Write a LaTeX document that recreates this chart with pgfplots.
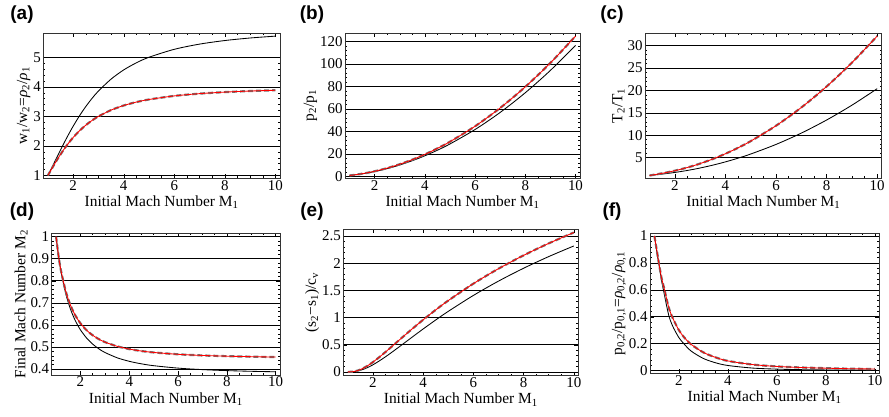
\documentclass[border=0pt]{standalone}
\usepackage{pgfplots}
\pgfplotsset{compat=1.18}
\usepackage{pgfplotstable}
\usepackage{fontspec}
\setmainfont{Liberation Serif}
\newfontfamily\panelfont{Liberation Sans}

% gamma = 1.4 (b) and gamma = 5/3 (r)
\pgfplotstableread{
M     b       r
1     1       1
1.2   1.3416  1.2973
1.4   1.6897  1.5806
1.6   2.0317  1.8417
1.8   2.3592  2.0769
2     2.6667  2.2857
2.25  3.0186  2.5116
2.5   3.3333  2.7027
2.75  3.6119  2.8639
3     3.8571  3.0
3.5   4.2609  3.2131
4     4.5714  3.3684
4.5   4.8119  3.4839
5     5.0     3.5714
6     5.2683  3.6923
7     5.4444  3.7692
8     5.5652  3.8209
9     5.6512  3.8571
10    5.7143  3.8835
}\rhotab
\pgfplotstableread{
M     b        r
1     1        1
1.2   1.5133   1.55
1.4   2.12     2.2
1.6   2.82     2.95
1.8   3.6133   3.8
2     4.5      4.75
2.25  5.7396   6.0781
2.5   7.125    7.5625
2.75  8.6563   9.2031
3     10.3333  11
3.5   14.125   15.0625
4     18.5     19.75
4.5   23.4583  25.0625
5     29       31
6     41.8333  44.75
7     57       61
8     74.5     79.75
9     94.3333  101
10    116.5    124.75
}\ptab
\pgfplotstableread{
M     b        r
1     1        1
1.2   1.1280   1.1948
1.4   1.2547   1.3918
1.6   1.3880   1.6018
1.8   1.5316   1.8296
2     1.6875   2.0781
2.25  1.9014   2.42
2.5   2.1375   2.7981
2.75  2.3966   3.2135
3     2.6790   3.6667
3.5   3.3150   4.6878
4     4.0469   5.8633
4.5   4.8750   7.1939
5     5.8      8.68
6     7.9406   12.1198
7     10.4694  16.1837
8     13.3867  20.8721
9     16.6926  26.1852
10    20.3875  32.1231
}\Ttab
\pgfplotstableread{
M     b       r
1     1       1
1.1   0.9118  0.9131
1.2   0.8422  0.8462
1.4   0.7397  0.7508
1.6   0.6684  0.6864
1.8   0.6165  0.6407
2     0.5774  0.6070
2.25  0.5406  0.5759
2.5   0.5130  0.5530
2.75  0.4918  0.5357
3     0.4752  0.5222
3.5   0.4512  0.5031
4     0.4350  0.4904
4.5   0.4236  0.4816
5     0.4152  0.4752
6     0.4042  0.4668
7     0.3974  0.4616
8     0.3929  0.4583
9     0.3898  0.4560
10    0.3876  0.4543
}\Mtab
\pgfplotstableread{
M     b       r
1     0       0
1.2   0.0029  0.0045
1.4   0.0171  0.0254
1.6   0.0443  0.0640
1.8   0.0830  0.1169
2     0.1309  0.1803
2.25  0.2007  0.2698
2.5   0.2780  0.3661
2.75  0.3603  0.4659
3     0.4455  0.5669
3.5   0.6187  0.7668
4     0.7900  0.9591
4.5   0.9557  1.1411
5     1.1141  1.3124
6     1.4073  1.6240
7     1.6706  1.8994
8     1.9076  2.1448
9     2.1222  2.3652
10    2.3177  2.5651
}\stab
\pgfplotstableread{
M     b       r
1     1       1
1.1   0.88    0.89
1.2   0.77    0.78
1.3   0.66    0.68
1.4   0.57    0.61
1.5   0.48    0.53
1.6   0.40    0.46
1.7   0.35    0.41
1.8   0.31    0.37
2     0.245   0.30
2.2   0.20    0.25
2.5   0.145   0.195
3     0.09    0.135
3.5   0.058   0.098
4     0.038   0.072
5     0.019   0.045
6     0.011   0.031
7     0.007   0.023
8     0.005   0.018
9     0.004   0.014
10    0.003   0.012
}\ftab

\pgfplotsset{
  panel/.style={
    scale only axis, anchor=south west,
    xmin=0.82, xmax=10.18, xtick={2,4,6,8,10}, minor x tick num=3,
    minor y tick num=4,
    ymajorgrids, grid style={black, line width=0.6bp},
    tick align=inside, major tick length=4bp, minor tick length=2bp,
    every tick/.style={black, line width=0.4bp},
    axis line style={line width=0.6bp, black!80},
    ticklabel style={font=\fontsize{15}{15}\selectfont},
    xticklabel style={yshift=1.5bp},
    yticklabel style={xshift=1bp},
    label style={font=\fontsize{15.5}{16}\selectfont},
    /pgf/number format/assume math mode=true,
    xlabel={Initial Mach Number M\textsubscript{1}},
    xlabel style={yshift=1.5bp},
    ylabel style={yshift=-4bp},
  },
  blk/.style={black, line width=0.85bp, smooth},
  dsh/.style={black!55, line width=2.2bp, dash pattern=on 5bp off 3bp, smooth},
  rd/.style={red, line width=0.85bp, smooth},
}

\begin{document}
\begin{tikzpicture}[x=1bp,y=1bp]
\path[use as bounding box] (0,0) rectangle (889,416);

% (a)
\begin{axis}[panel, at={(43.3bp,237.7bp)}, width=236.7bp, height=145bp,
  ymin=0.906, ymax=5.81, ytick={1,2,3,4,5},
  ylabel={w\textsubscript{1}/w\textsubscript{2}=\textit{ρ}\textsubscript{2}/\textit{ρ}\textsubscript{1}}]
\addplot[blk] table[x=M,y=b] {\rhotab};
\addplot[dsh] table[x=M,y=r] {\rhotab};
\addplot[rd] table[x=M,y=r] {\rhotab};
\end{axis}

% (b)
\begin{axis}[panel, at={(345bp,237.7bp)}, width=235bp, height=145bp,
  ymin=-1.5, ymax=127.3, ytick={0,20,...,120},
  ylabel={p\textsubscript{2}/p\textsubscript{1}}]
\addplot[blk] table[x=M,y=b] {\ptab};
\addplot[dsh] table[x=M,y=r] {\ptab};
\addplot[rd] table[x=M,y=r] {\ptab};
\end{axis}

% (c)
\begin{axis}[panel, at={(645bp,237.7bp)}, width=236.7bp, height=145bp,
  ymin=0.38, ymax=32.75, ytick={5,10,...,30},
  ylabel={T\textsubscript{2}/T\textsubscript{1}}]
\addplot[blk] table[x=M,y=b] {\Ttab};
\addplot[dsh] table[x=M,y=r] {\Ttab};
\addplot[rd] table[x=M,y=r] {\Ttab};
\end{axis}

% (d)
\begin{axis}[panel, at={(51.7bp,41bp)}, width=228.3bp, height=141.7bp,
  ymin=0.373, ymax=1.015, ytick={0.4,0.5,0.6,0.7,0.8,0.9,1},
  ylabel={Final Mach Number M\textsubscript{2}}]
\addplot[blk] table[x=M,y=b] {\Mtab};
\addplot[dsh] table[x=M,y=r] {\Mtab};
\addplot[rd] table[x=M,y=r] {\Mtab};
\end{axis}

% (e)
\begin{axis}[panel, at={(343.3bp,40.3bp)}, width=235bp, height=146.7bp,
  ymin=-0.07, ymax=2.63, ytick={0,0.5,1,1.5,2,2.5},
  ylabel={(s\textsubscript{2}−s\textsubscript{1})/c\textsubscript{v}}]
\addplot[blk] table[x=M,y=b] {\stab};
\addplot[dsh] table[x=M,y=r] {\stab};
\addplot[rd] table[x=M,y=r] {\stab};
\end{axis}

% (f)
\begin{axis}[panel, at={(650bp,42.7bp)}, width=229.3bp, height=140bp,
  ymin=-0.02, ymax=1.02, ytick={0,0.2,0.4,0.6,0.8,1},
  ylabel={p\textsubscript{0,2}/p\textsubscript{0,1}=\textit{ρ}\textsubscript{0,2}/\textit{ρ}\textsubscript{0,1}}]
\addplot[blk] table[x=M,y=b] {\ftab};
\addplot[dsh] table[x=M,y=r] {\ftab};
\addplot[rd] table[x=M,y=r] {\ftab};
\end{axis}

\begin{scope}[every node/.style={font=\panelfont\bfseries\fontsize{19}{19}\selectfont}]
\node at (22,401) {(a)};
\node at (312,401) {(b)};
\node at (612,401) {(c)};
\node at (22,204) {(d)};
\node at (312,204) {(e)};
\node at (612,204) {(f)};
\end{scope}
\end{tikzpicture}
\end{document}
